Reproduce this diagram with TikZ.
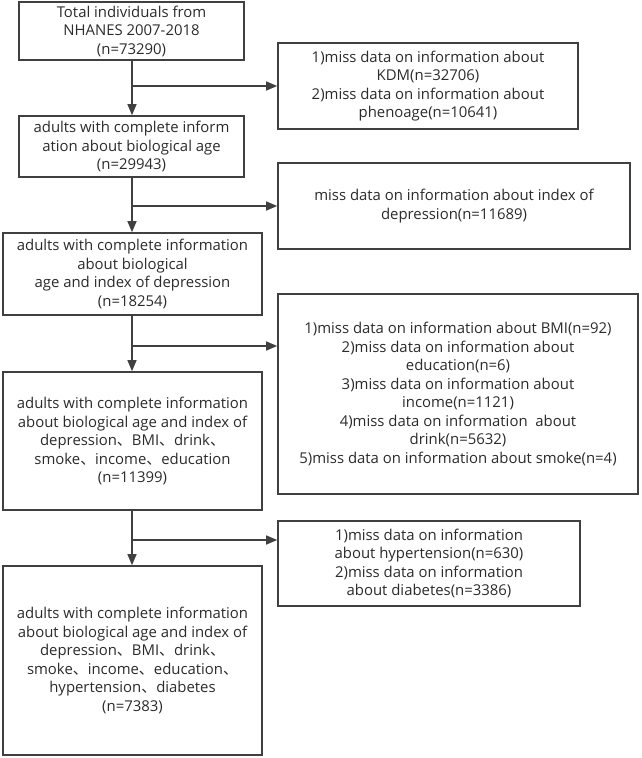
\documentclass[tikz,border=0pt]{standalone}
\usepackage{fontspec}
\setmainfont{Open Sans}
\newfontfamily\cjk{Noto Sans CJK SC}
\newcommand{\dn}{{\cjk 、}}
\usetikzlibrary{arrows.meta,positioning}
\definecolor{boxgray}{HTML}{404040}
\definecolor{textgray}{HTML}{2B2B2B}

\begin{document}
\begin{tikzpicture}[
            x=1pt, y=-1pt,
            box/.style = {shape=rectangle, draw=boxgray, line width=1.6pt, align=center, text=textgray, inner sep=0pt, font=\fontsize{14.9}{18.5}\selectfont},
            flow/.style = {draw=boxgray, line width=1.4pt, -{Triangle[length=11pt, width=9pt]}}
        ]

        \useasboundingbox (0,0) rectangle (642,758);

        \node[box, minimum width=225pt, minimum height=58pt] (total) at (131.5,31) {Total individuals from\\NHANES 2007-2018\\(n=73290)};
        \node[box, minimum width=225pt, minimum height=61pt] (bio) at (131.5,146.5) {adults with complete inform\\ation about biological age\\(n=29943)};
        \node[box, minimum width=259pt, minimum height=82pt] (dep) at (132.5,274) {adults with complete information\\about biological\\age and index of depression\\(n=18254)};
        \node[box, minimum width=259pt, minimum height=138pt] (cov) at (132.5,441) {adults with complete information\\about biological age and index of\\depression\dn BMI\dn drink\dn\\smoke\dn income\dn education\\(n=11399)};
        \node[box, minimum width=259pt, minimum height=189pt] (final) at (132.5,660.5) {adults with complete information\\about biological age and index of\\depression\dn BMI\dn drink\dn\\smoke\dn income\dn education\dn\\hypertension\dn diabetes\\(n=7383)};

        \node[box, minimum width=300pt, minimum height=86pt] (missA) at (428,86) {1)miss data on information about\\KDM(n=32706)\\2)miss data on information about\\phenoage(n=10641)};
        \node[box, minimum width=352pt, minimum height=86pt] (missB) at (454,206) {miss data on information about index of\\depression(n=11689)};
        \node[box, minimum width=360pt, minimum height=200pt] (missC) at (458,394) {1)miss data on information about BMI(n=92)\\2)miss data on information about\\education(n=6)\\3)miss data on information about\\income(n=1121)\\4)miss data on information~ about\\drink(n=5632)\\5)miss data on information about smoke(n=4)};
        \node[box, minimum width=302pt, minimum height=85pt] (missD) at (429,563.5) {1)miss data on information\\about hypertension(n=630)\\2)miss data on information\\about diabetes(n=3386)};

        \coordinate (kA) at (132,86);
        \coordinate (kB) at (132,206);
        \coordinate (kC) at (132,346);
        \coordinate (kD) at (132,540);

        \draw[flow] (kA |- total.south) -- (kA |- bio.north);
        \draw[flow] (kB |- bio.south) -- (kB |- dep.north);
        \draw[flow] (kC |- dep.south) -- (kC |- cov.north);
        \draw[flow] (kD |- cov.south) -- (kD |- final.north);

        \draw[flow] (kA) -- (kA -| missA.west);
        \draw[flow] (kB) -- (kB -| missB.west);
        \draw[flow] (kC) -- (kC -| missC.west);
        \draw[flow] (kD) -- (kD -| missD.west);
    \end{tikzpicture}
\end{document}
